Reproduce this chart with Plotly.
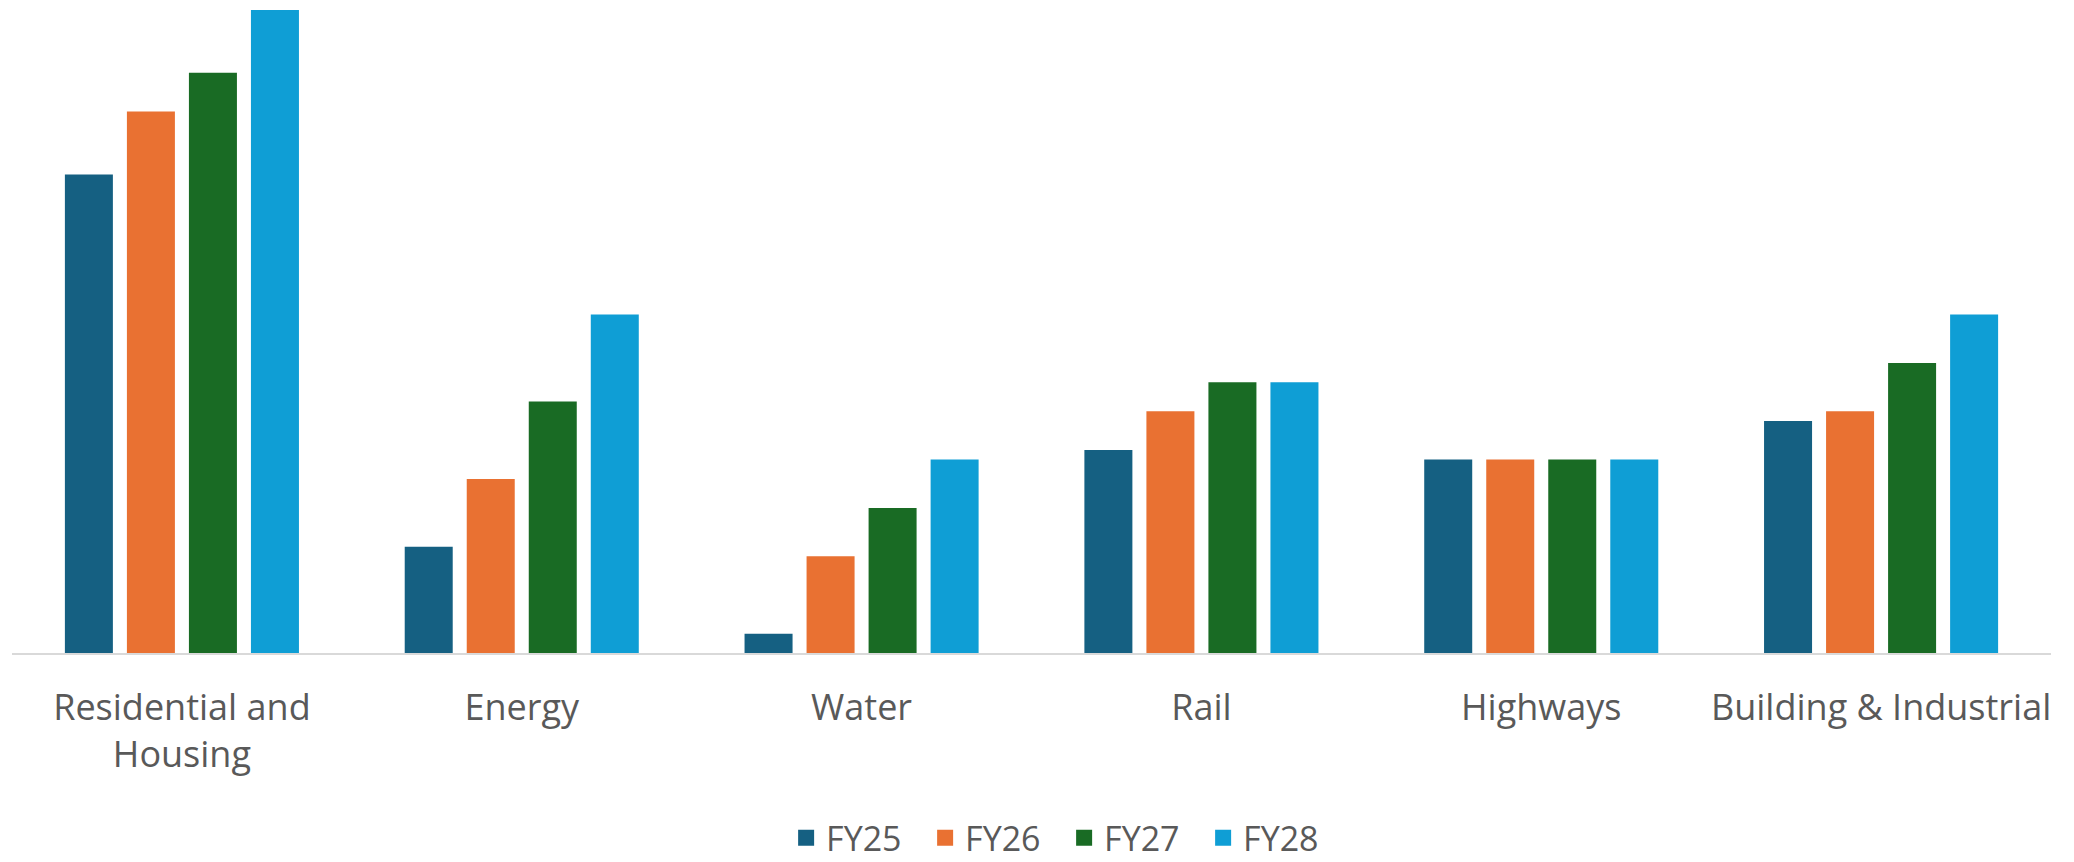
import plotly.graph_objects as go

categories = ["Residential and<br>Housing", "Energy", "Water", "Rail", "Highways", "Building & Industrial"]
series_names = ["FY25", "FY26", "FY27", "FY28"]
fy25 = [9.9, 2.2, 0.4, 4.2, 4.0, 4.8]
fy26 = [11.2, 3.6, 2.0, 5.0, 4.0, 5.0]
fy27 = [12.0, 5.2, 3.0, 5.6, 4.0, 6.0]
fy28 = [13.3, 7.0, 4.0, 5.6, 4.0, 7.0]
colors = ["#156082", "#E97132", "#196B24", "#0F9ED5"]

fig = go.Figure()
for name, vals, col in zip(series_names, [fy25, fy26, fy27, fy28], colors):
    fig.add_trace(go.Bar(name=name, x=categories, y=vals, showlegend=False,
                         marker=dict(color=col, line=dict(width=0))))
# legend proxies with larger square swatches
for name, col in zip(series_names, colors):
    fig.add_trace(go.Scatter(name=name, x=[categories[0]], y=[None], mode="markers",
                             marker=dict(symbol="square", size=20, color=col),
                             hoverinfo="skip", showlegend=True))

FONT = "Open Sans"
fig.update_layout(
    width=2074, height=862,
    margin=dict(l=12, r=23, t=10, b=209, autoexpand=False),
    paper_bgcolor="white", plot_bgcolor="white",
    barmode="group", bargap=0.27, bargroupgap=0.226,
    font=dict(family=FONT, color="#595959", size=36),
    showlegend=True,
    legend=dict(orientation="h", x=0.516, xanchor="center", y=-0.288, yanchor="middle",
                font=dict(family=FONT, size=34, color="#595959"),
                traceorder="normal", itemclick=False, itemwidth=30,
                entrywidth=94, entrywidthmode="pixels"),
    xaxis=dict(showline=True, linecolor="#D9D9D9", linewidth=2, ticks="", showgrid=False,
               automargin=False,
               tickfont=dict(family=FONT, size=36, color="#595959"), ticklabelstandoff=22),
    yaxis=dict(visible=False, range=[0, 13.3], showgrid=False, zeroline=False),
)
fig.write_html("out.html")
